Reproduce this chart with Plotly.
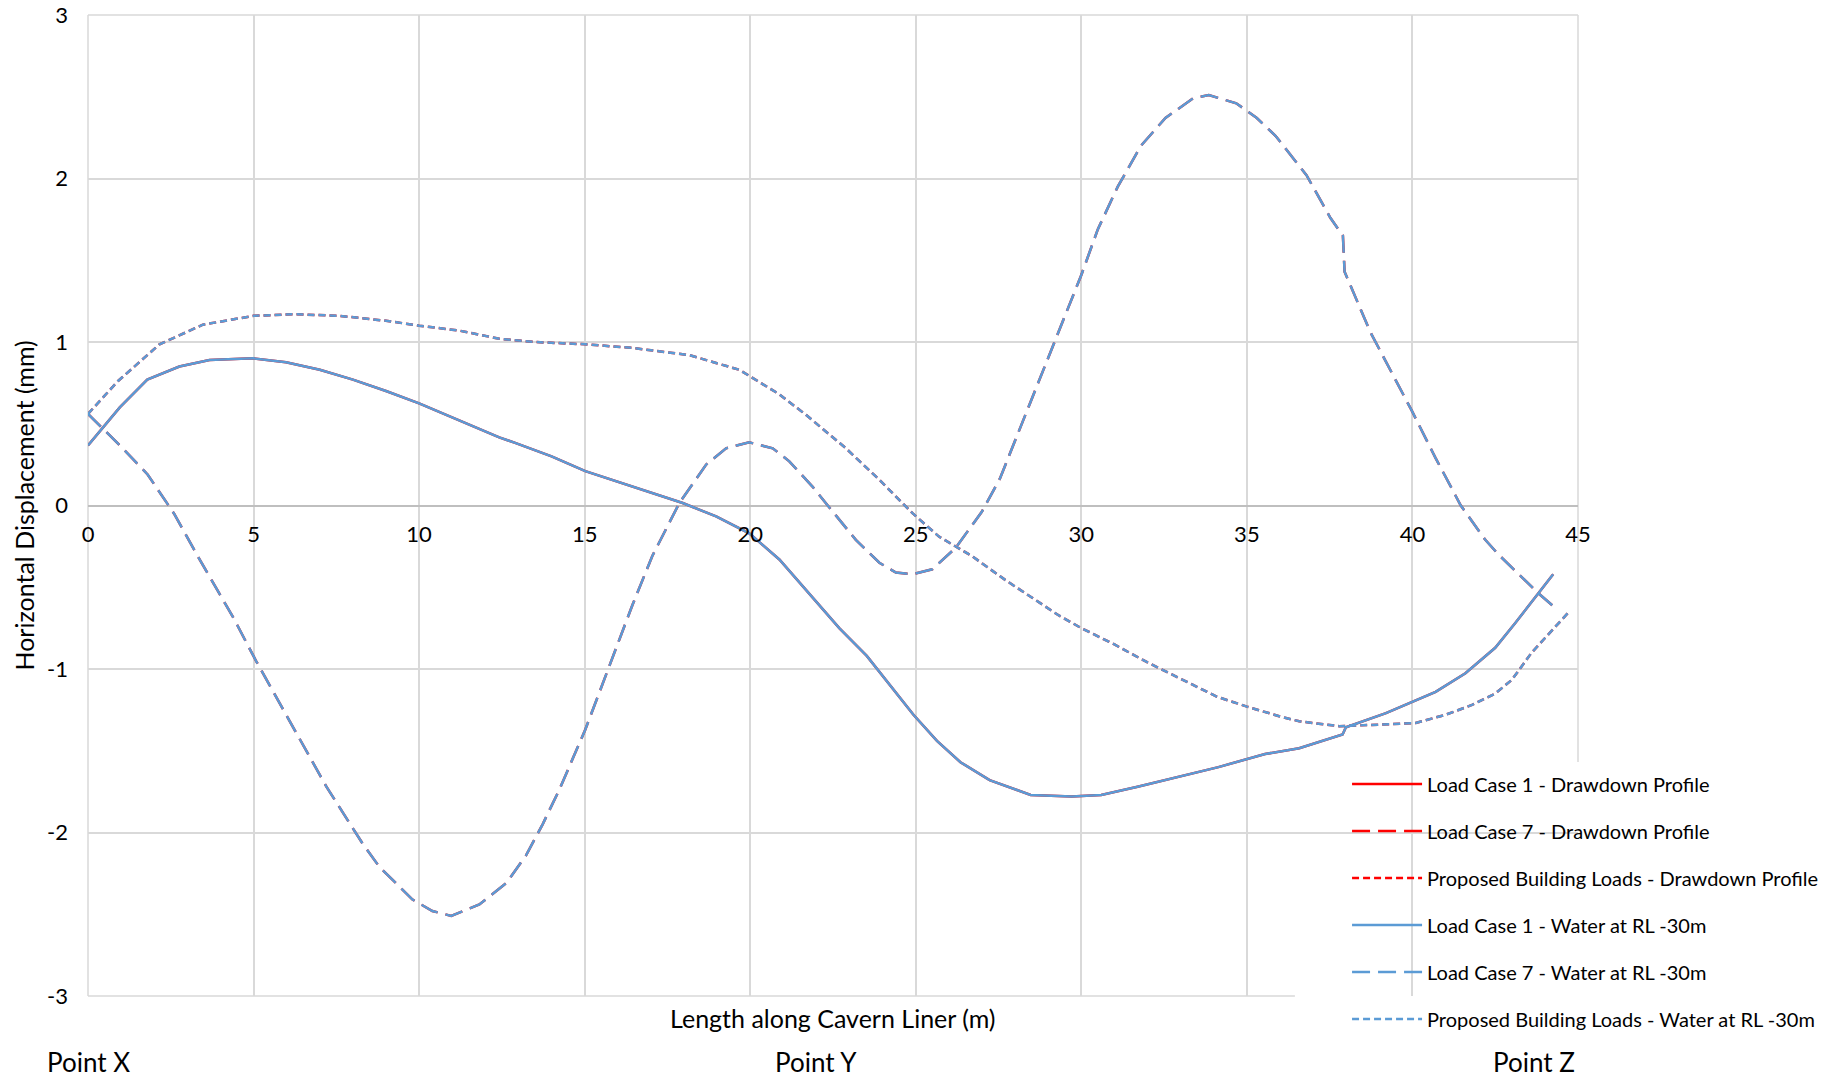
import plotly.graph_objects as go

# ---- data ----
lc1_x = [0, 0.96, 1.79, 2.76, 3.67, 5.0, 5.98, 7.0, 8.0, 9.0, 10.0, 11.2, 12.42, 12.9, 14.0,
         15.02, 16.65, 17.96, 18.97, 19.97, 20.88, 21.78, 22.69, 23.52, 24.23, 24.93, 25.64,
         26.35, 27.23, 28.47, 29.71, 30.6, 31.7, 32.72, 34.14, 35.55, 36.58, 37.89, 37.99,
         39.2, 40.7, 41.6, 42.5, 43.1, 43.73, 44.25]
lc1_y = [0.367, 0.60, 0.77, 0.85, 0.89, 0.90, 0.876, 0.83, 0.77, 0.70, 0.625, 0.52, 0.417, 0.383, 0.30,
         0.21, 0.10, 0.015, -0.067, -0.17, -0.33, -0.54, -0.75, -0.92, -1.10, -1.28, -1.44,
         -1.57, -1.68, -1.77, -1.78, -1.77, -1.72, -1.67, -1.60, -1.52, -1.485, -1.40, -1.356,
         -1.27, -1.14, -1.026, -0.87, -0.72, -0.557, -0.42]

lc7_x = [0, 0.45, 1.0, 1.8, 2.6, 3.37, 4.4, 5.1, 6.2, 7.2, 8.3, 8.8, 9.8, 10.4, 10.97, 11.82,
         12.63, 13.23, 13.73, 14.23, 15.02, 15.73, 16.44, 17.04, 17.86, 18.67, 19.27, 19.97,
         20.68, 21.18, 21.88, 22.49, 23.19, 23.9, 24.4, 24.9, 25.5, 26.2, 27.0, 27.54, 28.3,
         29.08, 30.0, 30.5, 31.1, 31.8, 32.54, 33.37, 33.85, 34.68, 35.3, 35.87, 36.8, 37.52,
         37.9, 37.95, 38.73, 39.98, 40.7, 41.46, 42.2, 42.6, 43.2, 43.8, 44.28]
lc7_y = [0.56, 0.47, 0.36, 0.19, -0.05, -0.33, -0.69, -0.96, -1.36, -1.72, -2.07, -2.21, -2.41, -2.48, -2.51, -2.44,
         -2.31, -2.14, -1.95, -1.74, -1.37, -0.99, -0.61, -0.31, 0.015, 0.25, 0.35, 0.386,
         0.35, 0.27, 0.116, -0.037, -0.21, -0.35, -0.41, -0.42, -0.39, -0.26, -0.037, 0.164, 0.55,
         0.95, 1.41, 1.69, 1.95, 2.20, 2.37, 2.49, 2.51, 2.46, 2.37, 2.26, 2.02, 1.76,
         1.65, 1.43, 1.06, 0.58, 0.29, 0.0, -0.21, -0.30, -0.42, -0.536, -0.62]

pbl_x = [0, 0.9, 2.16, 3.47, 5.0, 6.18, 7.6, 9.0, 10.0, 11.2, 12.42, 13.5, 15.02, 16.44, 18.16,
         19.67, 20.88, 21.68, 22.89, 23.9, 24.9, 25.7, 26.7, 27.7, 29.3, 30.0, 31.0, 32.0, 33.0,
         34.1, 35.0, 36.0, 36.58, 37.79, 39.0, 40.1, 41.0, 41.8, 42.5, 43.0, 43.6, 44.2, 44.73]
pbl_y = [0.56, 0.76, 0.986, 1.106, 1.16, 1.17, 1.16, 1.13, 1.10, 1.07, 1.02, 1.0, 0.986, 0.964, 0.92,
         0.83, 0.68, 0.555, 0.35, 0.157, -0.047, -0.19, -0.31, -0.455, -0.67, -0.75, -0.85, -0.96, -1.06,
         -1.17, -1.23, -1.29, -1.32, -1.35, -1.34, -1.33, -1.28, -1.22, -1.15, -1.067, -0.90, -0.77, -0.65]

series_names = [
    "Load Case 1 - Drawdown Profile",
    "Load Case 7 - Drawdown Profile",
    "Proposed Building Loads - Drawdown Profile",
    "Load Case 1 - Water at RL -30m",
    "Load Case 7 - Water at RL -30m",
    "Proposed Building Loads - Water at RL -30m",
]
x_ticks = [0, 5, 10, 15, 20, 25, 30, 35, 40, 45]
y_ticks = [-3, -2, -1, 0, 1, 2, 3]
point_labels = ["Point X", "Point Y", "Point Z"]
point_positions = [0, 22.0, 43.67]

RED = "#FF0000"
BLUE = "#5B9BD5"
GRID = "#D9D9D9"
FONT = "Lato"

data_sets = [(lc1_x, lc1_y), (lc7_x, lc7_y), (pbl_x, pbl_y)]
dashes = ["solid", "18px,8px", "7px,4px"]

fig = go.Figure()
colors = [RED, RED, RED, BLUE, BLUE, BLUE]
for i, name in enumerate(series_names):
    xs, ys = data_sets[i % 3]
    fig.add_trace(go.Scatter(
        x=xs, y=ys, mode="lines", name=name,
        line=dict(color=colors[i], width=2.5, dash=dashes[i % 3]),
        legendgroup=f"g{i}",
    ))

fig.update_layout(
    width=1838, height=1078,
    margin=dict(l=88, r=260, t=15, b=82, autoexpand=False),
    plot_bgcolor="white", paper_bgcolor="white",
    font=dict(family=FONT, size=22, color="black"),
    showlegend=True,
    legend=dict(
        x=0.845, y=0.236, xanchor="left", yanchor="top",
        font=dict(family=FONT, size=20, color="black"),
        bgcolor="rgba(0,0,0,0)", tracegroupgap=18, traceorder="grouped",
        itemwidth=70,
    ),
    xaxis=dict(
        range=[0, 45], tickvals=x_ticks, ticktext=[str(v) for v in x_ticks],
        showgrid=True, gridcolor=GRID, gridwidth=1.5,
        zeroline=False, showline=False, ticks="", automargin=False,
        anchor="free", position=0.5, ticklabelstandoff=13,
        tickfont=dict(family=FONT, size=22, color="black"),
    ),
    yaxis=dict(
        range=[-3, 3], tickvals=y_ticks, ticktext=[str(v) for v in y_ticks],
        showgrid=True, gridcolor=GRID, gridwidth=1.5,
        zeroline=True, zerolinecolor="#BFBFBF", zerolinewidth=2,
        showline=False, ticks="", ticklabelstandoff=19, automargin=False,
        tickfont=dict(family=FONT, size=22, color="black"),
    ),
)

# plot-area border gridlines (edges of the grid)
for (x0, y0, x1, y1) in [(0, 0, 0, 1), (1, 0, 1, 1), (0, 1, 1, 1), (0, 0, 1, 0)]:
    fig.add_shape(type="line", xref="paper", yref="paper", x0=x0, y0=y0, x1=x1, y1=y1,
                  line=dict(color=GRID, width=1.5), layer="below")

# white backing behind the legend (covers gridlines there)
fig.add_shape(type="rect", xref="paper", yref="paper",
              x0=0.81, x1=1.02, y0=-0.02, y1=0.2385,
              fillcolor="white", line=dict(width=0), layer="between")

fig.add_annotation(text="Length along Cavern Liner (m)", xref="paper", yref="paper",
                   x=0.5, y=-0.0224, xanchor="center", yanchor="middle", showarrow=False,
                   font=dict(family=FONT, size=25, color="black"))
fig.add_annotation(text="Horizontal Displacement (mm)", xref="paper", yref="paper",
                   x=-0.0436, y=0.5, xanchor="center", yanchor="middle", textangle=-90,
                   showarrow=False, font=dict(family=FONT, size=25, color="black"))
for lbl, px in zip(point_labels, point_positions):
    fig.add_annotation(text=lbl, xref="x", yref="paper", x=px, y=-0.0673,
                       xanchor="center", yanchor="middle", showarrow=False,
                       font=dict(family=FONT, size=26, color="black"))

fig.write_html(
    "out.html",
    config={"displayModeBar": False},
    post_script="document.body.style.margin='0';document.body.style.overflow='hidden';",
)
